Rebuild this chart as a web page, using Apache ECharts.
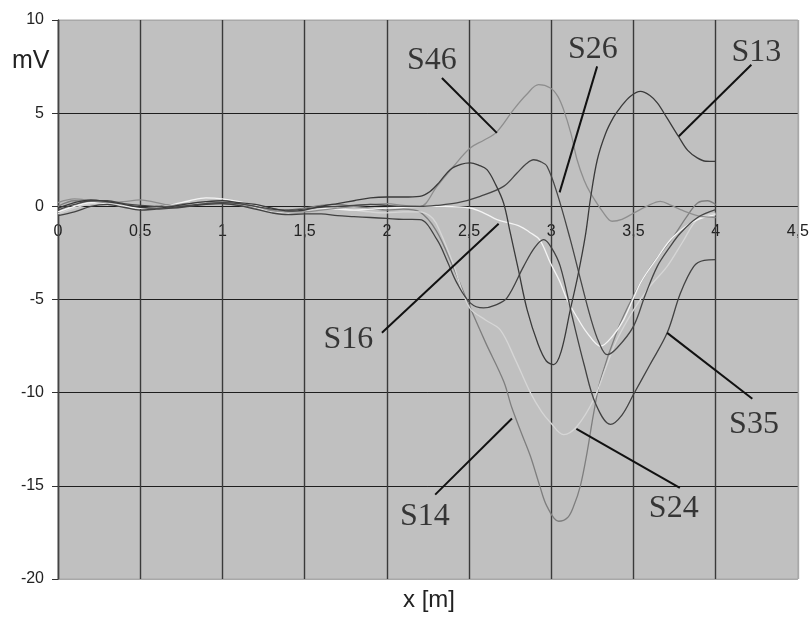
<!DOCTYPE html>
<html><head><meta charset="utf-8">
<script src="https://cdn.jsdelivr.net/npm/echarts@6/dist/echarts.min.js"></script>
<style>html,body{margin:0;padding:0;background:#fff}#c{width:812px;height:620px}</style>
</head><body><div id="c"></div>
<script>
// x tick labels (European decimal comma)
const xTickLabels = ['0','0,5','1','1,5','2','2,5','3','3,5','4','4,5'];
const yTickLabels = ['-20','-15','-10','-5','0','5','10'];

// common x positions of the quiet region
const nearX = [0,0.1,0.2,0.3,0.4,0.5,0.6,0.7,0.8,0.9,1.0,1.1,1.2,1.3,1.4,1.5,1.6,1.7,1.8,1.9,2.0,2.1];

const s13Near = [-0.1,0.2,0.35,0.25,0.1,-0.05,-0.1,0.0,0.15,0.25,0.3,0.2,0.1,-0.1,-0.25,-0.2,0.0,0.15,0.3,0.45,0.5,0.5];
const s46Near = [0.2,0.4,0.3,0.2,0.25,0.35,0.2,0.05,0.05,0.15,0.2,0.15,0.0,-0.2,-0.3,-0.3,-0.2,-0.1,0.0,0.1,0.15,0.05];
const s35Near = [-0.5,-0.3,0.0,0.1,-0.05,-0.2,-0.15,-0.1,0.0,0.1,0.15,0.05,-0.15,-0.35,-0.45,-0.4,-0.4,-0.5,-0.55,-0.6,-0.65,-0.7];
const s16Near = [-0.3,0.0,0.2,0.15,0.0,-0.1,-0.05,0.1,0.3,0.45,0.4,0.25,0.05,-0.15,-0.25,-0.15,-0.1,-0.15,-0.2,-0.15,-0.1,-0.05];
const s24Near = [-0.4,-0.1,0.15,0.2,0.05,-0.1,-0.1,0.0,0.1,0.2,0.25,0.15,-0.05,-0.3,-0.35,-0.25,-0.15,-0.1,-0.2,-0.3,-0.35,-0.3];
const s14Near = [0.0,0.3,0.25,0.1,0.0,-0.1,0.0,0.1,0.15,0.2,0.15,0.05,-0.1,-0.25,-0.2,-0.1,0.05,0.1,0.0,-0.1,-0.2,-0.15];
const s26Near = [-0.2,0.1,0.3,0.3,0.15,0.05,0.0,-0.05,0.05,0.15,0.2,0.15,0.0,-0.15,-0.2,-0.15,-0.05,0.0,0.05,0.1,0.05,0.0];

// active region [x, mV]
const s13Act = [[2.2,0.54],[2.263,0.8],[2.32,1.3],[2.385,1.97],[2.45,2.25],[2.507,2.33],[2.56,2.2],[2.609,1.97],[2.66,1.2],[2.71,0.18],[2.751,-1.43],[2.8,-3.4],[2.853,-5.54],[2.92,-7.4],[2.97,-8.3],[3.015,-8.49],[3.06,-7.8],[3.116,-5.54],[3.16,-3.8],[3.207,-1.6],[3.24,0.5],[3.28,2.5],[3.33,3.9],[3.38,4.8],[3.42,5.3],[3.48,5.9],[3.543,6.17],[3.6,5.95],[3.645,5.55],[3.7,4.8],[3.776,3.72],[3.83,3.0],[3.888,2.6],[3.94,2.42],[4.0,2.41]];
const s46Act = [[2.203,0.0],[2.305,1.07],[2.406,2.15],[2.507,3.13],[2.59,3.55],[2.666,3.97],[2.771,5.19],[2.85,6.0],[2.923,6.53],[2.995,6.35],[3.04,5.9],[3.075,5.19],[3.12,3.9],[3.157,2.5],[3.2,1.4],[3.238,0.72],[3.319,-0.36],[3.37,-0.8],[3.43,-0.7],[3.502,-0.36],[3.58,0.0],[3.664,0.27],[3.73,0.05],[3.786,-0.18],[3.888,-0.5],[4.0,-0.6]];
const s26Act = [[2.2,0.0],[2.3,0.05],[2.426,0.18],[2.568,0.54],[2.71,1.07],[2.792,1.79],[2.85,2.3],[2.893,2.5],[2.935,2.4],[2.974,2.15],[3.035,0.72],[3.116,-1.79],[3.18,-4.0],[3.24,-6.0],[3.29,-7.3],[3.34,-7.96],[3.4,-7.6],[3.5,-6.44],[3.57,-4.8],[3.645,-3.22],[3.72,-2.2],[3.786,-1.43],[3.89,-0.6],[4.0,-0.18]];
const s35Act = [[2.2,-0.71],[2.305,-1.79],[2.37,-3.0],[2.426,-4.11],[2.507,-5.18],[2.588,-5.45],[2.66,-5.3],[2.731,-4.91],[2.832,-3.22],[2.9,-2.2],[2.954,-1.79],[3.0,-2.2],[3.055,-3.22],[3.127,-5.9],[3.2,-8.5],[3.27,-10.6],[3.36,-11.7],[3.43,-11.2],[3.5,-10.1],[3.6,-8.5],[3.705,-6.79],[3.786,-4.65],[3.867,-3.22],[3.93,-2.9],[4.0,-2.86]];
const s16Act = [[2.2,0.0],[2.35,0.0],[2.507,-0.09],[2.6,-0.4],[2.67,-0.71],[2.81,-1.07],[2.87,-1.4],[2.93,-1.8],[2.995,-3.04],[3.05,-4.0],[3.096,-5.0],[3.16,-6.0],[3.218,-6.79],[3.3,-7.51],[3.37,-7.0],[3.441,-6.08],[3.543,-4.11],[3.65,-2.7],[3.745,-1.61],[3.87,-0.8],[4.0,-0.45]];
const s24Act = [[2.2,-0.3],[2.26,-0.5],[2.3,-0.9],[2.4,-3.0],[2.5,-5.4],[2.6,-6.1],[2.69,-6.63],[2.78,-8.2],[2.873,-10.0],[2.94,-11.0],[2.995,-11.6],[3.075,-12.25],[3.157,-11.8],[3.258,-10.37],[3.33,-8.7],[3.4,-7.15],[3.502,-5.54],[3.6,-4.3],[3.705,-3.22],[3.8,-1.9],[3.888,-0.71],[4.0,-0.36]];
const s14Act = [[2.2,-0.3],[2.3,-1.3],[2.4,-3.2],[2.5,-5.3],[2.6,-7.3],[2.711,-9.4],[2.76,-10.8],[2.82,-12.2],[2.873,-13.4],[2.93,-15.0],[2.974,-16.1],[3.045,-16.9],[3.1,-16.7],[3.136,-16.1],[3.177,-15.0],[3.218,-13.2],[3.258,-11.1],[3.3,-9.3],[3.4,-6.7],[3.5,-4.8],[3.6,-3.3],[3.745,-1.6],[3.82,-0.6],[3.89,0.18],[3.95,0.3],[4.0,0.1]];

const seriesNames = ['S14','S24','S16','S46','S26','S35','S13'];
const seriesColors = ['#7e7e7e','#d6d6d6','#f4f4f4','#8e8e8e','#464646','#424242','#3a3a3a'];

// annotations: [label, textX, textY, lineFromX, lineFromY, tipX, tipY]
const annotations = [
  ['S46',2.274,7.82,2.335,6.89,2.669,3.94],
  ['S26',3.253,8.41,3.279,7.51,3.051,0.75],
  ['S13',4.248,8.27,4.217,7.60,3.776,3.76],
  ['S16',1.766,-7.15,1.970,-6.79,2.680,-0.93],
  ['S35',4.233,-11.71,4.223,-10.33,3.705,-6.79],
  ['S24',3.745,-16.22,3.782,-15.11,3.153,-11.94],
  ['S14',2.231,-16.67,2.294,-15.47,2.761,-11.39]
];

function build(near, act){ return near.map((y,i)=>[nearX[i],y]).concat(act); }
const seriesData = {
  S13: build(s13Near,s13Act), S46: build(s46Near,s46Act), S35: build(s35Near,s35Act),
  S16: build(s16Near,s16Act), S24: build(s24Near,s24Act), S14: build(s14Near,s14Act),
  S26: build(s26Near,s26Act)
};

const chart = echarts.init(document.getElementById('c'));
const axisFont = {fontFamily:'Liberation Sans, Arial, sans-serif', fontSize:16, color:'#222'};
const vGrid = ['#3a3a3a','#3a3a3a','#3a3a3a','#3a3a3a','#3a3a3a','#3a3a3a','#3a3a3a','#3a3a3a','#3a3a3a','#a8a8a8'];
const hGrid = ['#a8a8a8','#1e1e1e','#1e1e1e','#1e1e1e','#1e1e1e','#1e1e1e','#a8a8a8'];

const lineSeries = seriesNames.map((n,i)=>({
  name:n, type:'line', data:seriesData[n], smooth:0.35, showSymbol:false, symbol:'none',
  xAxisIndex:0, z:3,
  lineStyle:{color:seriesColors[i], width:1.3}
}));

const annSeries = {
  type:'scatter', xAxisIndex:0, z:5, symbolSize:1, silent:true,
  itemStyle:{color:'rgba(0,0,0,0)'},
  data: annotations.map(a=>({name:a[0], value:[a[1],a[2]]})),
  label:{show:true, position:'inside', formatter:p=>p.name,
    fontFamily:'Liberation Serif, Times New Roman, serif', fontSize:32, color:'#111'},
  markLine:{silent:true, symbol:['none','none'], animation:false,
    label:{show:false}, lineStyle:{color:'#111', width:2, type:'solid'},
    data: annotations.map(a=>[{coord:[a[3],a[4]]},{coord:[a[5],a[6]]}])}
};

chart.setOption({
  animation:false,
  backgroundColor:'#fff',
  grid:{left:58, top:20, right:14, bottom:41, show:true, backgroundColor:'#c0c0c0', borderColor:'#a8a8a8', borderWidth:1},
  xAxis:[{
    type:'value', min:0, max:4.5, interval:0.5, z:1, position:'bottom', offset:0,
    axisLine:{show:true, onZero:false, lineStyle:{color:'#111', width:1}},
    axisTick:{show:true, length:5, lineStyle:{color:'#222'}},
    axisLabel:Object.assign({margin:17, formatter:v=>xTickLabels[Math.round(v/0.5)]}, axisFont),
    splitLine:{show:false}
  },{
    type:'value', min:0, max:4.5, interval:0.5, z:2, position:'top',
    axisLine:{show:false, onZero:false}, axisTick:{show:false}, axisLabel:{show:false},
    splitLine:{show:true, lineStyle:{color:vGrid, width:1.4}}
  }],
  yAxis:{
    type:'value', min:-20, max:10, interval:5, z:2,
    axisLine:{show:true, onZero:false, lineStyle:{color:'#444', width:1.4}},
    axisTick:{show:true, length:6, lineStyle:{color:'#333'}},
    axisLabel:Object.assign({margin:14, formatter:v=>yTickLabels[Math.round((v+20)/5)]}, axisFont),
    splitLine:{show:true, lineStyle:{color:hGrid, width:1}}
  },
  graphic:[
    {type:'text', left:12, top:49, style:{text:'mV', fontFamily:'Liberation Sans, Arial, sans-serif', fontSize:25, fill:'#222'}},
    {type:'text', left:403, top:588, style:{text:'x [m]', fontFamily:'Liberation Sans, Arial, sans-serif', fontSize:24, fill:'#222'}}
  ],
  series: lineSeries.concat([annSeries])
});
// put the labelled x axis on the y = 0 line (Excel style crossing)
const yZero = chart.convertToPixel({yAxisIndex:0}, 0);
const yMin = chart.convertToPixel({yAxisIndex:0}, -20);
chart.setOption({xAxis:[{offset:-(yMin - yZero)},{}]});
</script></body></html>
